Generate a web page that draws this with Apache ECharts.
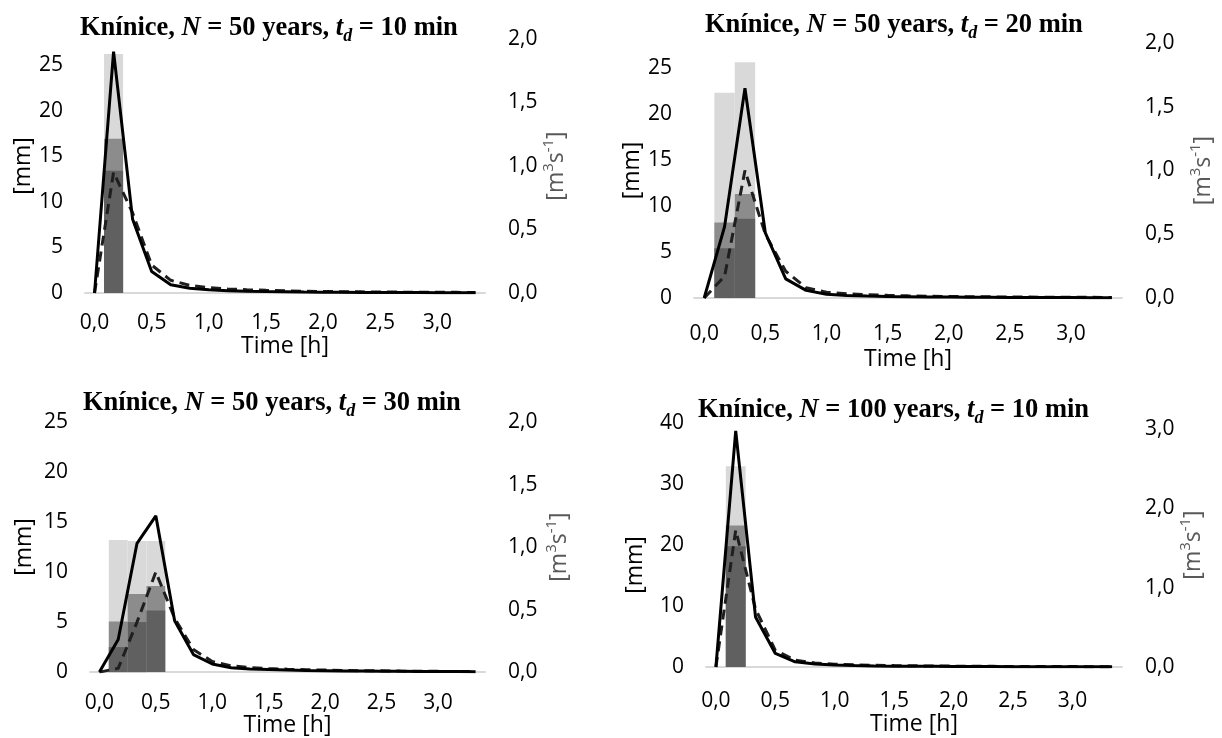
<!DOCTYPE html>
<html>
<head>
<meta charset="utf-8">
<script src="https://cdn.jsdelivr.net/npm/echarts@6/dist/echarts.min.js"></script>
<style>
  html, body { margin: 0; background: #fff; }
  #chart { width: 1222px; height: 738px; }
</style>
</head>
<body>
<div id="chart"></div>
<script>
// time steps in minutes (category axis, labels shown in hours)
const minutes = [0, 10, 20, 30, 40, 50, 60, 70, 80, 90, 100, 110, 120, 130, 140, 150, 160, 170, 180, 190, 200];

// N = 50 years, td = 10 min
const p1Rain = [null, 26.2, null, null, null, null, null, null, null, null, null, null, null, null, null, null, null, null, null, null, null];
const p1Mid = [null, 16.9, null, null, null, null, null, null, null, null, null, null, null, null, null, null, null, null, null, null, null];
const p1Eff = [null, 13.4, null, null, null, null, null, null, null, null, null, null, null, null, null, null, null, null, null, null, null];
const p1Solid = [0, 1.90, 0.58, 0.17, 0.065, 0.038, 0.025, 0.018, 0.014, 0.011, 0.009, 0.007, 0.006, 0.005, 0.004, 0.004, 0.003, 0.003, 0.002, 0.002, 0.002];
const p1Dashed = [0, 0.95, 0.63, 0.22, 0.10, 0.06, 0.042, 0.032, 0.026, 0.021, 0.017, 0.014, 0.012, 0.010, 0.009, 0.008, 0.007, 0.006, 0.005, 0.005, 0.004];

// N = 50 years, td = 20 min
const p2Rain = [null, 22.3, 25.6, null, null, null, null, null, null, null, null, null, null, null, null, null, null, null, null, null, null];
const p2Mid = [null, 8.2, 11.3, null, null, null, null, null, null, null, null, null, null, null, null, null, null, null, null, null, null];
const p2Eff = [null, 5.4, 8.6, null, null, null, null, null, null, null, null, null, null, null, null, null, null, null, null, null, null];
const p2Solid = [0, 0.56, 1.645, 0.51, 0.15, 0.06, 0.03, 0.02, 0.015, 0.012, 0.010, 0.008, 0.007, 0.006, 0.005, 0.004, 0.004, 0.003, 0.003, 0.002, 0.002];
const p2Dashed = [0, 0.17, 1.0, 0.50, 0.21, 0.08, 0.045, 0.033, 0.026, 0.021, 0.017, 0.014, 0.012, 0.010, 0.009, 0.008, 0.007, 0.006, 0.005, 0.005, 0.004];

// N = 50 years, td = 30 min
const p3Rain = [null, 13.2, 13.1, 13.1, null, null, null, null, null, null, null, null, null, null, null, null, null, null, null, null, null];
const p3Mid = [null, 5.05, 7.8, 8.6, null, null, null, null, null, null, null, null, null, null, null, null, null, null, null, null, null];
const p3Eff = [null, 2.5, 5.0, 6.15, null, null, null, null, null, null, null, null, null, null, null, null, null, null, null, null, null];
const p3Solid = [0, 0.26, 1.03, 1.25, 0.41, 0.14, 0.065, 0.035, 0.025, 0.020, 0.016, 0.013, 0.011, 0.009, 0.008, 0.007, 0.006, 0.005, 0.004, 0.004, 0.003];
const p3Dashed = [0, 0.03, 0.40, 0.80, 0.43, 0.18, 0.085, 0.05, 0.036, 0.028, 0.023, 0.019, 0.016, 0.013, 0.011, 0.010, 0.008, 0.007, 0.006, 0.005, 0.005];

// N = 100 years, td = 10 min
const p4Rain = [null, 32.9, null, null, null, null, null, null, null, null, null, null, null, null, null, null, null, null, null, null, null];
const p4Mid = [null, 23.2, null, null, null, null, null, null, null, null, null, null, null, null, null, null, null, null, null, null, null];
const p4Eff = [null, 19.8, null, null, null, null, null, null, null, null, null, null, null, null, null, null, null, null, null, null, null];
const p4Solid = [0, 2.97, 0.63, 0.17, 0.065, 0.038, 0.025, 0.018, 0.014, 0.011, 0.009, 0.008, 0.006, 0.005, 0.005, 0.004, 0.004, 0.003, 0.003, 0.002, 0.002];
const p4Dashed = [0, 1.72, 0.73, 0.21, 0.085, 0.05, 0.036, 0.028, 0.022, 0.018, 0.015, 0.013, 0.011, 0.009, 0.008, 0.007, 0.006, 0.005, 0.005, 0.004, 0.004];

const titles = [
  '{a|Knínice, }{i|N}{a| = 50 years, }{i|t}{s|d}{a| = 10 min}',
  '{a|Knínice, }{i|N}{a| = 50 years, }{i|t}{s|d}{a| = 20 min}',
  '{a|Knínice, }{i|N}{a| = 50 years, }{i|t}{s|d}{a| = 30 min}',
  '{a|Knínice, }{i|N}{a| = 100 years, }{i|t}{s|d}{a| = 10 min}',
];

const panels = [
  { rain: p1Rain, mid: p1Mid, eff: p1Eff, solid: p1Solid, dashed: p1Dashed,
    grid: { left: 85, top: 39, width: 400, height: 254 }, titlePos: [80, 11],
    mmMax: 27.85, mmStep: 5, qMax: 2, qStep: 0.5,
    xLabelMargin: 20, xNameGap: 36, mmGap: 47, mmShift: 0, qGap: 53 },
  { rain: p2Rain, mid: p2Mid, eff: p2Eff, solid: p2Solid, dashed: p2Dashed,
    grid: { left: 694, top: 43, width: 428, height: 255 }, titlePos: [705, 8],
    mmMax: 27.7, mmStep: 5, qMax: 2, qStep: 0.5,
    xLabelMargin: 26, xNameGap: 50, mmGap: 47, mmShift: 0, qGap: 66 },
  { rain: p3Rain, mid: p3Mid, eff: p3Eff, solid: p3Solid, dashed: p3Dashed,
    grid: { left: 90, top: 422, width: 395, height: 252 }, titlePos: [83, 386],
    mmMax: 25, mmStep: 5, qMax: 2, qStep: 0.5,
    xLabelMargin: 20, xNameGap: 37, mmGap: 54, mmShift: 0, qGap: 59 },
  { rain: p4Rain, mid: p4Mid, eff: p4Eff, solid: p4Solid, dashed: p4Dashed,
    grid: { left: 706, top: 423, width: 416, height: 244 }, titlePos: [698, 393],
    mmMax: 40, mmStep: 10, qMax: 3.07, qStep: 1,
    xLabelMargin: 24, xNameGap: 36, mmGap: 59, mmShift: 40, qGap: 53 },
];

const labelFont = { fontFamily: 'Open Sans', fontSize: 21, color: '#000' };
const nameFont = { fontFamily: 'Open Sans', fontSize: 23, color: '#000' };
const serif = { fontFamily: 'Liberation Serif', fontWeight: 'bold', color: '#000' };

const onStep = (v, step) => Math.abs(v / step - Math.round(v / step)) < 1e-6;

const getChartOptions = () => {
  const option = {
    animation: false,
    backgroundColor: '#fff',
    title: [],
    grid: [],
    xAxis: [],
    yAxis: [],
    series: [],
  };

  panels.forEach((p, i) => {
    option.title.push({
      text: titles[i],
      left: p.titlePos[0],
      top: p.titlePos[1],
      padding: 0,
      textStyle: {
        rich: {
          a: { ...serif, fontSize: 26.5, lineHeight: 34 },
          i: { ...serif, fontSize: 26.5, lineHeight: 34, fontStyle: 'italic' },
          s: { ...serif, fontSize: 18, lineHeight: 18, fontStyle: 'italic', verticalAlign: 'bottom' },
        },
      },
    });

    option.grid.push({ ...p.grid, containLabel: false });

    option.xAxis.push({
      type: 'category',
      gridIndex: i,
      data: minutes,
      boundaryGap: true,
      axisTick: { show: false },
      axisLine: { lineStyle: { color: '#d9d9d9', width: 2 } },
      axisLabel: {
        ...labelFont,
        interval: 2,
        margin: p.xLabelMargin,
        formatter: (m) => (m / 60).toFixed(1).replace('.', ','),
      },
      name: 'Time [h]',
      nameLocation: 'middle',
      nameGap: p.xNameGap,
      nameTextStyle: nameFont,
    });

    option.yAxis.push({
      type: 'value',
      gridIndex: i,
      position: 'left',
      min: 0,
      max: p.mmMax,
      interval: p.mmStep,
      splitLine: { show: false },
      axisLine: { show: false },
      axisTick: { show: false },
      axisLabel: {
        ...labelFont,
        margin: 22,
        formatter: (v) => (onStep(v, p.mmStep) ? String(Math.round(v)) : ''),
      },
      name: '[mm]',
      nameLocation: 'middle',
      nameGap: p.mmGap,
      nameTextStyle: { ...nameFont, padding: [0, p.mmShift, 0, 0] },
    });

    option.yAxis.push({
      type: 'value',
      gridIndex: i,
      position: 'right',
      min: 0,
      max: p.qMax,
      interval: p.qStep,
      splitLine: { show: false },
      axisLine: { show: false },
      axisTick: { show: false },
      axisLabel: {
        ...labelFont,
        margin: 23,
        formatter: (v) => (onStep(v, p.qStep) ? v.toFixed(1).replace('.', ',') : ''),
      },
      name: '{a|[m}{u|3}{a|s}{u|-1}{a|]}',
      nameLocation: 'middle',
      nameGap: p.qGap,
      nameTextStyle: {
        rich: {
          a: { fontFamily: 'Open Sans', fontSize: 23, color: '#595959', lineHeight: 30 },
          u: { fontFamily: 'Open Sans', fontSize: 15, color: '#595959', lineHeight: 15, verticalAlign: 'top' },
        },
      },
    });

    const bar = (data, color) => ({
      type: 'bar',
      xAxisIndex: i,
      yAxisIndex: 2 * i,
      data,
      barWidth: '100%',
      barGap: '-100%',
      itemStyle: { color },
      silent: true,
    });

    option.series.push(bar(p.rain, '#d9d9d9'));
    option.series.push(bar(p.mid, '#8c8c8c'));
    option.series.push(bar(p.eff, '#606060'));

    option.series.push({
      type: 'line',
      xAxisIndex: i,
      yAxisIndex: 2 * i + 1,
      data: p.dashed,
      symbol: 'none',
      z: 4,
      lineStyle: { color: '#1f1f1f', width: 3, type: [10, 6] },
    });
    option.series.push({
      type: 'line',
      xAxisIndex: i,
      yAxisIndex: 2 * i + 1,
      data: p.solid,
      symbol: 'none',
      z: 5,
      lineStyle: { color: '#000', width: 3 },
    });
  });

  return option;
};

const chart = echarts.init(document.getElementById('chart'));
chart.setOption(getChartOptions());
</script>
</body>
</html>
